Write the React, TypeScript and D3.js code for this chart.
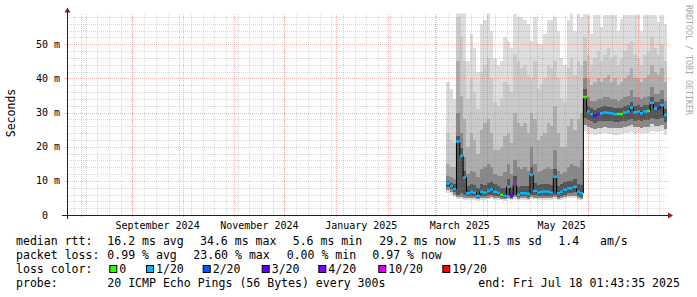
import React from "react";
import * as d3 from "d3";

const W = 697;
const H = 297;
const DAY = 86400000;

// time span of the graph (UTC)
const graphStart = Date.UTC(2024, 6, 23, 19, 0, 0);
const graphEnd = Date.UTC(2025, 6, 18, 1, 43, 35);
const firstSample = Date.UTC(2025, 2, 8);
const sampleDays = 2;

const medianRtt = [9.3, 8.5, 7.6, 21.5, 17.3, 11.0, 6.4, 6.8, 6.5, 5.6,
  6.8, 6.6, 7.1, 7.5, 6.8, 6.5, 5.9, 5.6, 8.3, 5.7,
  9.0, 5.9, 6.4, 6.4, 6.2, 11.7, 7.0, 6.6, 6.8, 6.9,
  6.8, 6.5, 11.2, 6.4, 6.8, 7.4, 7.8, 7.8, 8.3, 6.8,
  6.4, 34.6, 30.3, 29.6, 29.0, 29.6, 29.8, 30.0, 29.9, 29.8,
  29.6, 29.6, 29.6, 30.0, 30.3, 31.4, 30.1, 30.3, 29.8, 30.3,
  30.5, 32.9, 31.2, 31.2, 32.2, 29.3];

const lossLevel = [1, 1, 1, 1, 1, 1, 1, 1, 1, 1,
  1, 1, 1, 1, 1, 1, 0, 1, 1, 3,
  5, 1, 1, 1, 1, 1, 1, 1, 1, 1,
  1, 1, 1, 1, 1, 1, 1, 1, 1, 1,
  1, 0, 1, 1, 3, 4, 1, 1, 1, 1,
  1, 0, 0, 1, 1, 1, 1, 1, 1, 1,
  0, 1, 1, 3, 1, 1];

const pingMax = [39, 37, 34, 60, 60, 60, 45, 53, 49, 42,
  56, 57, 60, 54, 46, 44, 45, 52, 51, 49,
  59, 58, 58, 57, 56, 51, 58, 50, 50, 53,
  57, 57, 58, 54, 46, 44, 57, 60, 54, 59,
  58, 59, 58.6, 53, 58.6, 58.6, 55, 58.6, 58.6, 58.6,
  58.6, 54, 57.5, 58.6, 58.6, 58.6, 58.6, 58.6, 54, 58.6,
  58.6, 58.6, 58.6, 56.5, 58.6, 56];

const pingHi1 = [24, 22, 21, 58, 52, 45, 34, 40, 36, 31,
  42, 44, 46, 40, 33, 32, 34, 39, 38, 36,
  47, 45, 43, 44, 41, 40, 45, 37, 38, 40,
  44, 43, 45, 40, 34, 33, 43, 46, 41, 45,
  44, 52, 47, 44, 46, 48, 45, 47, 49, 46,
  47, 44, 46, 48, 50, 51, 47, 46, 44, 47,
  48, 52, 49, 47, 50, 45];

const pingHi2 = [15, 14, 14, 45, 35, 28, 20, 24, 22, 18,
  25, 27, 28, 24, 19, 19, 20, 23, 24, 21,
  30, 27, 26, 27, 24, 30, 28, 22, 23, 24,
  27, 26, 32, 24, 20, 20, 26, 28, 25, 28,
  30, 45, 40, 38, 39, 40, 39, 40, 41, 39,
  40, 38, 39, 40, 41, 43, 40, 40, 39, 40,
  41, 44, 42, 41, 43, 39];

const pingHi3 = [11.5, 11, 10.5, 30, 24, 17, 12, 13, 12.5, 11,
  13.5, 14, 15, 14, 12, 11.5, 11.5, 12.5, 15, 12,
  16, 14, 13.5, 14, 13, 20, 15, 12.5, 13, 13.5,
  14, 13.5, 19, 13, 12, 12.5, 14, 15, 14.5, 14,
  16, 40, 34.5, 33.5, 33.5, 34, 34, 34.5, 34.5, 34,
  34, 33.5, 34, 34.5, 35, 36.5, 34.5, 34.5, 34, 34.5,
  35, 37.5, 35.5, 35.5, 36.5, 33.5];

const pingHi4 = [10, 9.5, 9, 23, 19.5, 13, 8.5, 9, 8.7, 7.8,
  9, 8.8, 9.4, 9.8, 9, 8.6, 8, 7.8, 10.5, 8,
  11.3, 8.2, 8.6, 8.6, 8.4, 14, 9.3, 8.8, 9, 9.1,
  9, 8.7, 13.5, 8.6, 9, 9.6, 10, 10, 10.5, 9,
  8.8, 37, 32, 31.4, 30.8, 31.4, 31.6, 31.8, 31.7, 31.6,
  31.4, 31.4, 31.4, 31.8, 32.1, 33.2, 31.9, 32.1, 31.6, 32.1,
  32.3, 34.7, 33, 33, 34, 31.1];

const pingLo2 = [8.2, 7.5, 6.8, 6.0, 6.4, 5.9, 5.5, 5.6, 5.5, 5.0,
  5.6, 5.5, 5.8, 6.0, 5.6, 5.5, 5.2, 5.0, 5.8, 5.1,
  6.0, 5.2, 5.5, 5.5, 5.4, 6.0, 5.8, 5.5, 5.6, 5.7,
  5.6, 5.5, 6.0, 5.4, 5.6, 6.0, 6.3, 6.3, 6.6, 5.6,
  5.4, 28.5, 27.8, 27.4, 27.0, 27.4, 27.5, 27.6, 27.5, 27.4,
  27.3, 27.3, 27.4, 27.6, 27.8, 28.2, 27.6, 27.8, 27.4, 27.7,
  27.8, 28.5, 28.0, 28.0, 28.4, 27.2];

const pingLo1 = [7.2, 6.6, 6.0, 5.2, 5.4, 5.1, 4.9, 5.0, 4.9, 4.6,
  5.0, 4.9, 5.1, 5.3, 5.0, 4.9, 4.7, 4.6, 5.1, 4.7,
  5.3, 4.7, 4.9, 4.9, 4.8, 5.3, 5.1, 4.9, 5.0, 5.0,
  5.0, 4.9, 5.3, 4.8, 5.0, 5.3, 5.5, 5.5, 5.7, 5.0,
  4.8, 26.5, 25.8, 25.5, 25.2, 25.5, 25.6, 25.8, 25.6, 25.5,
  25.4, 25.4, 25.5, 25.8, 26.0, 26.3, 25.7, 25.9, 25.5, 25.8,
  25.9, 26.6, 26.1, 26.1, 26.5, 25.3];

const pingMin = [6.3, 5.8, 5.2, 4.6, 4.8, 4.5, 4.4, 4.5, 4.4, 4.2,
  4.5, 4.4, 4.6, 4.7, 4.5, 4.4, 4.3, 4.2, 4.6, 4.3,
  4.7, 4.3, 4.4, 4.4, 4.3, 4.7, 4.6, 4.4, 4.5, 4.5,
  4.5, 4.4, 4.7, 4.3, 4.5, 4.7, 4.9, 4.9, 5.0, 4.5,
  4.3, 24.5, 23.8, 23.6, 23.3, 23.6, 23.7, 23.9, 23.7, 23.6,
  23.5, 23.5, 23.6, 23.9, 24.1, 24.4, 23.8, 24.0, 23.6, 23.9,
  24.0, 24.7, 24.2, 24.2, 24.6, 23.4];

const lossLabels = ["0", "1/20", "2/20", "3/20", "4/20", "10/20", "19/20"];
const lossColors = ["#26ff00", "#00b8ff", "#0059ff", "#5e00ff", "#7e00ff", "#dd00ff", "#ff0000"];

const yTicks = [0, 10, 20, 30, 40, 50];
const yTickLabels = ["0  ", "10 m", "20 m", "30 m", "40 m", "50 m"];
const xLabelMonths = [Date.UTC(2024, 8, 1), Date.UTC(2024, 10, 1), Date.UTC(2025, 0, 1), Date.UTC(2025, 2, 1), Date.UTC(2025, 4, 1)];

const legendLine1 = ["median rtt:", "16.2 ms avg", "34.6 ms max", "5.6 ms min", "29.2 ms now", "11.5 ms sd", "1.4", "am/s"];
const legendLine2 = ["packet loss:", "0.99 % avg", "23.60 % max", "0.00 % min", "0.97 % now"];
const probeText = "20 ICMP Echo Pings (56 Bytes) every 300s";
const endText = "end: Fri Jul 18 01:43:35 2025";

const FONT = "'DejaVu Sans Mono', monospace";

export default function App() {
  const left = 67, right = 667, top = 13.6, bottom = 215;
  const x = d3.scaleUtc().domain([new Date(graphStart), new Date(graphEnd)]).range([left, right]);
  const y = d3.scaleLinear().domain([0, 59]).range([bottom, top]);

  const n = medianRtt.length;
  const dates = d3.range(n + 1).map((i) => new Date(firstSample + i * sampleDays * DAY));
  const colX = dates.map((d) => Math.round(x(d)));

  const bands = [
    { lo: pingMin, hi: pingMax, color: "#dddddd" },
    { lo: pingLo1, hi: pingHi1, color: "#cacaca" },
    { lo: pingLo1, hi: pingHi2, color: "#adadad" },
    { lo: pingLo1, hi: pingHi3, color: "#888888" },
    { lo: pingLo2, hi: pingHi4, color: "#555555" },
  ];

  const weeks = d3.utcSunday.range(new Date(graphStart), new Date(graphEnd));
  const months = d3.utcMonth.range(new Date(graphStart), new Date(graphEnd));
  const minorY = d3.range(2, 59, 2).filter((v) => v % 10 !== 0);
  const majorY = yTicks.filter((v) => v > 0);

  const medLine = d3
    .line<number>()
    .x((_, i) => x(dates[i]))
    .y((v) => y(v))
    .curve(d3.curveStepAfter)(medianRtt.concat([medianRtt[n - 1]]));

  const legendX1 = [16, 107.3, 200, 292.7, 379.3, 472.3, 558.3, 600];
  const legendX2 = [16, 107.3, 193.3, 286.7, 372.3];
  const boxX = [109.3, 146, 202.7, 261.7, 318.3, 378.3, 442.3];

  const gridMinor = { stroke: "#8a8a8a", strokeOpacity: 0.32, strokeDasharray: "1,1" };
  const gridMajor = { stroke: "#e05050", strokeOpacity: 0.4, strokeDasharray: "1,1" };

  return (
    <svg width={W} height={H} style={{ position: "absolute", left: 0, top: 0, background: "#fff" }} fontFamily={FONT}>
      <defs>
        <clipPath id="plot">
          <rect x={left} y={top} width={right - left} height={bottom - top} />
        </clipPath>
      </defs>
      <rect x={0} y={0} width={W} height={H} fill="#fff" />

      {/* smoke */}
      <g clipPath="url(#plot)" shapeRendering="crispEdges">
        {bands.map((b, bi) => (
          <g key={bi} fill={b.color}>
            {medianRtt.map((_, i) => (
              <rect key={i} x={colX[i]} width={colX[i + 1] - colX[i]} y={y(b.hi[i])} height={Math.max(0, y(b.lo[i]) - y(b.hi[i]))} />
            ))}
          </g>
        ))}
      </g>

      {/* grid */}
      <g shapeRendering="crispEdges">
        {minorY.map((v) => (
          <line key={"my" + v} x1={left} x2={right} y1={Math.round(y(v)) + 0.5} y2={Math.round(y(v)) + 0.5} {...gridMinor} />
        ))}
        {weeks.map((d, i) => (
          <line key={"wk" + i} x1={Math.round(x(d)) + 0.5} x2={Math.round(x(d)) + 0.5} y1={top} y2={bottom} {...gridMinor} />
        ))}
        {majorY.map((v) => (
          <line key={"My" + v} x1={left - 3} x2={right + 3} y1={Math.round(y(v)) + 0.5} y2={Math.round(y(v)) + 0.5} {...gridMajor} />
        ))}
        {months.map((d, i) => (
          <line key={"mo" + i} x1={Math.round(x(d)) + 0.5} x2={Math.round(x(d)) + 0.5} y1={top} y2={bottom + 2} {...gridMajor} />
        ))}
      </g>

      {/* median */}
      <g clipPath="url(#plot)">
        <path d={medLine || ""} fill="none" stroke="#000" strokeWidth={1} />
        {medianRtt.map((v, i) => (
          <line key={i} x1={colX[i]} x2={colX[i + 1]} y1={y(v)} y2={y(v)} stroke={lossColors[lossLevel[i]]} strokeWidth={2.5} />
        ))}
      </g>

      {/* axes */}
      <g shapeRendering="crispEdges" stroke="#202020">
        <line x1={left - 5} x2={right + 2} y1={bottom + 0.5} y2={bottom + 0.5} />
        <line x1={left + 0.5} x2={left + 0.5} y1={bottom + 4} y2={top - 2} />
      </g>
      <path d={`M${right + 1},${bottom - 2.5} L${right + 6},${bottom + 0.5} L${right + 1},${bottom + 3.5} Z`} fill="#7f1f1f" />
      <path d={`M${left - 2.5},${top - 1} L${left + 0.5},${top - 6} L${left + 3.5},${top - 1} Z`} fill="#7f1f1f" />

      {/* y tick labels */}
      {yTicks.map((v, i) => (
        <text key={v} x={60 - yTickLabels[i].length * 6.02} y={y(v) + 3.6} fontSize={10} fill="#000" style={{ whiteSpace: "pre" }}>
          {yTickLabels[i]}
        </text>
      ))}
      {/* x labels */}
      {xLabelMonths.map((m) => (
        <text key={m} x={x(new Date(m + 15 * DAY))} y={228.5} fontSize={10} textAnchor="middle" fill="#000">
          {d3.utcFormat("%B %Y")(new Date(m))}
        </text>
      ))}

      <text transform="translate(14.5,113) rotate(-90)" textAnchor="middle" fontSize={11.5} fill="#000">Seconds</text>
      <text transform="translate(685.5,5) rotate(90)" fontSize={8.3} fill="#a8a8a8">RRDTOOL / TOBI OETIKER</text>

      {/* legend */}
      <g fontSize={11.55} fill="#000" style={{ whiteSpace: "pre" }}>
        {legendLine1.map((t, i) => (
          <text key={"a" + i} x={legendX1[i]} y={245}>{t}</text>
        ))}
        {legendLine2.map((t, i) => (
          <text key={"b" + i} x={legendX2[i]} y={259}>{t}</text>
        ))}
        <text x={16} y={273}>loss color:</text>
        {lossLabels.map((t, i) => (
          <g key={"c" + i}>
            <rect x={boxX[i] + 0.5} y={265.5} width={7} height={7} fill={lossColors[i]} stroke="#000" strokeWidth={1} />
            <text x={boxX[i] + 10} y={273}>{t}</text>
          </g>
        ))}
        <text x={16} y={287}>probe:</text>
        <text x={107.3} y={287}>{probeText}</text>
        <text x={478.3} y={287}>{endText}</text>
      </g>
    </svg>
  );
}
